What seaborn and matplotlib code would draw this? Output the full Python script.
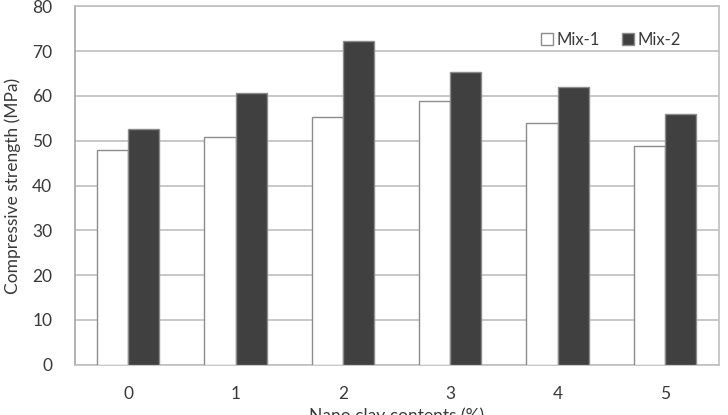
import pandas as pd
import matplotlib
matplotlib.use("Agg")
import matplotlib.pyplot as plt
import seaborn as sns

# values
clay = ["0", "1", "2", "3", "4", "5"]
mix1 = [48.0, 50.9, 55.2, 58.9, 54.0, 48.9]
mix2 = [52.6, 60.6, 72.3, 65.4, 62.0, 56.0]

df = pd.DataFrame({
    "clay": clay * 2,
    "strength": mix1 + mix2,
    "mix": ["Mix-1"] * len(clay) + ["Mix-2"] * len(clay),
})

sns.set_style("white")
plt.rcParams["font.family"] = ["Lato", "DejaVu Sans"]
text_col = "#3a3a3a"
grid_col = "#bfbfbf"
fs = 12.5

fig, ax = plt.subplots(figsize=(7.28, 4.15), dpi=100)
fig.subplots_adjust(left=0.1025, right=0.987, top=0.9846, bottom=0.121)

sns.barplot(
    data=df, x="clay", y="strength", hue="mix", order=clay,
    palette={"Mix-1": "white", "Mix-2": "#404040"},
    width=0.58, gap=0, edgecolor="#8c8c8c", linewidth=1.0, ax=ax, zorder=3,
)

ax.set_ylim(0, 80)
ax.set_yticks(range(0, 81, 10))
ax.yaxis.grid(True, color=grid_col, linewidth=1.2, zorder=0)
ax.set_axisbelow(True)
for s in ax.spines.values():
    s.set_color(grid_col)
    s.set_linewidth(1.2)
ax.spines["left"].set_color("#a6a6a6")
ax.tick_params(axis="y", length=5, width=1.2, color=grid_col, labelsize=fs,
               labelcolor=text_col, pad=11)
ax.tick_params(axis="x", length=0, labelsize=fs, labelcolor=text_col, pad=15)

ax.set_ylabel("Compressive strength (MPa)", fontsize=fs, color=text_col)
ax.yaxis.set_label_coords(-0.083, 0.5)
# the reference image crops this label at the bottom edge
ax.set_xlabel("Nano clay contents (%)", fontsize=fs, color=text_col)
ax.xaxis.set_label_coords(0.5, -0.118)

leg = ax.legend(loc="center right", bbox_to_anchor=(0.955, 0.906), ncol=2,
                frameon=False, fontsize=12, handlelength=0.7, handleheight=0.7,
                handletextpad=0.25, columnspacing=1.3, borderpad=0)
for t in leg.get_texts():
    t.set_color(text_col)

fig.savefig("out.png", dpi=100)
